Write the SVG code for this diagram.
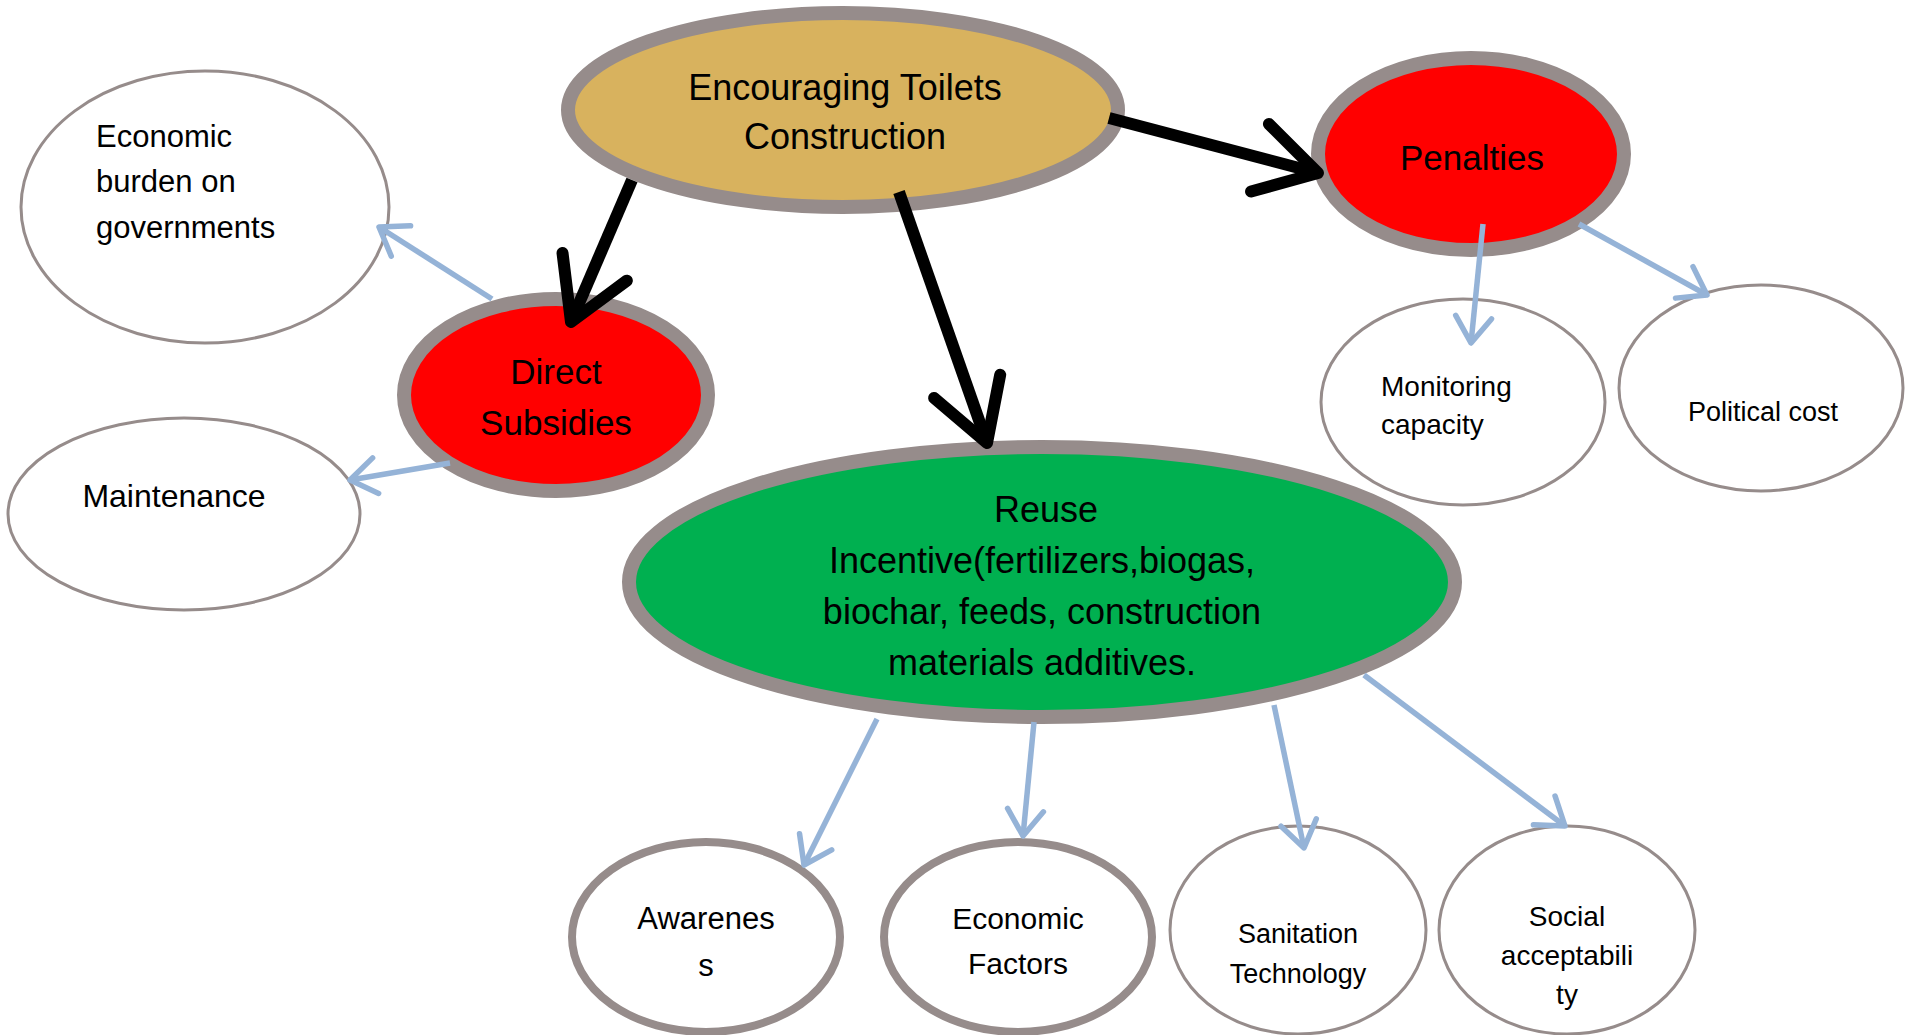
<svg xmlns="http://www.w3.org/2000/svg" width="1905" height="1035" viewBox="0 0 1905 1035">
<style>
text{font-family:"Liberation Sans",Arial,sans-serif;fill:#000;text-anchor:middle}
.thick{stroke:#968C8B;stroke-width:14}
.mid{stroke:#968C8B;stroke-width:8;fill:#fff}
.thin{stroke:#968C8B;stroke-width:3;fill:#fff}
.blk{stroke:#000;stroke-width:12;fill:none}
.blu{stroke:#95B3D7;stroke-width:5.5;fill:none}
</style>
<defs>
<marker id="ahb" markerUnits="userSpaceOnUse" markerWidth="90" markerHeight="90" viewBox="-70 -45 90 90" refX="0" refY="0" orient="auto" overflow="visible">
<path d="M-60,-35 L0,0 L-60,35" fill="none" stroke="#000" stroke-width="12" stroke-linecap="round" stroke-linejoin="round"/>
</marker>
<marker id="ahl" markerUnits="userSpaceOnUse" markerWidth="50" markerHeight="50" viewBox="-35 -25 50 50" refX="0" refY="0" orient="auto" overflow="visible">
<path d="M-26,-18 L0,0 L-26,18" fill="none" stroke="#95B3D7" stroke-width="5.5" stroke-linecap="round" stroke-linejoin="round"/>
</marker>
</defs>
<rect width="1905" height="1035" fill="#fff"/>
<g id="node-encouraging">
<ellipse class="thick" cx="843" cy="110" rx="275" ry="97" fill="#D8B25E"/>
<text x="845" y="100" font-size="36">Encouraging Toilets</text>
<text x="845" y="149" font-size="36">Construction</text>
</g>
<g id="node-direct">
<ellipse class="thick" cx="556" cy="395" rx="152" ry="96" fill="#FF0000"/>
<text x="556" y="384" font-size="35">Direct</text>
<text x="556" y="435" font-size="35">Subsidies</text>
</g>
<g id="node-penalties">
<ellipse class="thick" cx="1471" cy="154" rx="153" ry="96" fill="#FF0000"/>
<text x="1472" y="170" font-size="35">Penalties</text>
</g>
<g id="node-reuse">
<ellipse class="thick" cx="1042" cy="582" rx="413" ry="135" fill="#00B050"/>
<text x="1046" y="522" font-size="36">Reuse</text>
<text x="1042" y="573" font-size="36">Incentive(fertilizers,biogas,</text>
<text x="1042" y="624" font-size="36">biochar, feeds, construction</text>
<text x="1042" y="675" font-size="36">materials additives.</text>
</g>
<g id="node-economic-burden">
<ellipse class="thin" cx="205" cy="207" rx="184" ry="136"/>
<text x="96" y="147" font-size="31" style="text-anchor:start">Economic</text>
<text x="96" y="192" font-size="31" style="text-anchor:start">burden on</text>
<text x="96" y="238" font-size="31" style="text-anchor:start">governments</text>
</g>
<g id="node-maintenance">
<ellipse class="thin" cx="184" cy="514" rx="176" ry="96"/>
<text x="174" y="507" font-size="32">Maintenance</text>
</g>
<g id="node-monitoring">
<ellipse class="thin" cx="1463" cy="402" rx="142" ry="103"/>
<text x="1381" y="396" font-size="28" style="text-anchor:start">Monitoring</text>
<text x="1381" y="434" font-size="28" style="text-anchor:start">capacity</text>
</g>
<g id="node-political">
<ellipse class="thin" cx="1761" cy="388" rx="142" ry="103"/>
<text x="1763" y="421" font-size="27">Political cost</text>
</g>
<g id="node-awareness">
<ellipse class="mid" cx="706" cy="937" rx="134" ry="95"/>
<text x="706" y="929" font-size="31">Awarenes</text>
<text x="706" y="976" font-size="31">s</text>
</g>
<g id="node-economic-factors">
<ellipse class="mid" cx="1018" cy="937" rx="134" ry="95"/>
<text x="1018" y="929" font-size="30">Economic</text>
<text x="1018" y="974" font-size="30">Factors</text>
</g>
<g id="node-sanitation">
<ellipse class="thin" cx="1298" cy="930" rx="128" ry="104"/>
<text x="1298" y="943" font-size="27">Sanitation</text>
<text x="1298" y="983" font-size="27">Technology</text>
</g>
<g id="node-social">
<ellipse class="thin" cx="1567" cy="930" rx="128" ry="104"/>
<text x="1567" y="926" font-size="28">Social</text>
<text x="1567" y="965" font-size="28">acceptabili</text>
<text x="1567" y="1004" font-size="28">ty</text>
</g>
<g id="connectors">
<line class="blk" x1="632" y1="180" x2="571" y2="322" marker-end="url(#ahb)"/>
<line class="blk" x1="899" y1="192" x2="987" y2="443" marker-end="url(#ahb)"/>
<line class="blk" x1="1109" y1="118" x2="1318" y2="173" marker-end="url(#ahb)"/>
<line class="blu" x1="492" y1="299" x2="379" y2="227" marker-end="url(#ahl)"/>
<line class="blu" x1="450" y1="463" x2="350" y2="480" marker-end="url(#ahl)"/>
<line class="blu" x1="1483" y1="224" x2="1471" y2="343" marker-end="url(#ahl)"/>
<line class="blu" x1="1579" y1="224" x2="1707" y2="295" marker-end="url(#ahl)"/>
<line class="blu" x1="877" y1="719" x2="804" y2="865" marker-end="url(#ahl)"/>
<line class="blu" x1="1034" y1="722" x2="1023" y2="836" marker-end="url(#ahl)"/>
<line class="blu" x1="1274" y1="705" x2="1304" y2="848" marker-end="url(#ahl)"/>
<line class="blu" x1="1364" y1="675" x2="1565" y2="826" marker-end="url(#ahl)"/>
</g>
</svg>
